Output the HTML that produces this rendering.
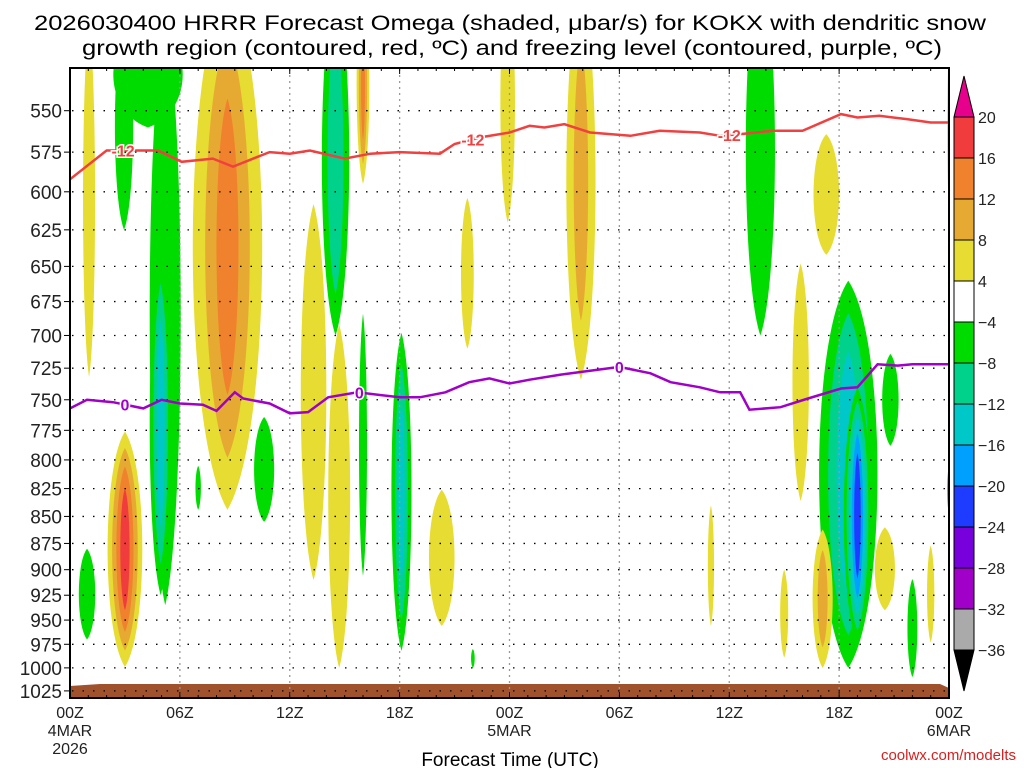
<!DOCTYPE html>
<html><head><meta charset="utf-8"><style>
html,body{margin:0;padding:0;background:#fff;}
svg{display:block;font-family:"Liberation Sans",sans-serif;}
</style></head><body>
<svg id="chart" width="1024" height="768" viewBox="0 0 1024 768" xmlns="http://www.w3.org/2000/svg">
<defs><clipPath id="plotclip"><rect x="70" y="68" width="879" height="630"/></clipPath></defs>
<text x="510" y="30" font-size="21" text-anchor="middle" textLength="952" lengthAdjust="spacingAndGlyphs">2026030400 HRRR Forecast Omega (shaded, μbar/s) for KOKX with dendritic snow</text>
<text x="512" y="55" font-size="21" text-anchor="middle" textLength="860" lengthAdjust="spacingAndGlyphs">growth region (contoured, red, ºC) and freezing level (contoured, purple, ºC)</text>
<g id="shade" clip-path="url(#plotclip)"></g>
<g id="grid"></g>
<g id="lines" clip-path="url(#plotclip)"></g>
<rect x="70" y="68" width="879" height="630" fill="none" stroke="#000" stroke-width="2"/>
<g id="axes"></g>
<g id="cbar"></g>
<text x="510" y="766" font-size="19" text-anchor="middle">Forecast Time (UTC)</text>
<text x="1016" y="760" font-size="15" fill="#d82020" text-anchor="end">coolwx.com/modelts</text>
</svg>
<script>
// ---- data ----
const pressureTicks=[550,575,600,625,650,675,700,725,750,775,800,825,850,875,900,925,950,975,1000,1025];
const timeTicks=[0,6,12,18,24,30,36,42,48];
const timeLabels=["00Z","06Z","12Z","18Z","00Z","06Z","12Z","18Z","00Z"];
const dateLabels=["4MAR","","","","5MAR","","","","6MAR"];
// omega features: center hour, top pressure, bottom pressure, half-width (h), peak omega
const blobT=[1.04,0.93,2.95,4.26,5.2,4.95,3.0,8.6,10.6,7.0,13.3,14.7,14.5,16,16,18.1,20.3,21.7,23.9,27.9,22,35,37.7,41.3,39.9,42.5,43.0,41.1,39,44.8,44.5,46,47,48.2,48.3];
const blobPt=[500,880,500,500,500,640,776,480,764,805,608,692,480,480,684,698,826,604,480,480,980,840,470,564,648,660,740,862,900,714,860,909,877,793,480];
const blobPb=[732,970,625,560,935,925,999,844,855,844,910,1000,700,595,906,982,956,710,620,734,1000,956,700,642,836,1000,975,1000,989,788,940,1010,973,861,655];
const blobW=[0.33,0.45,0.5,1.9,0.85,0.6,0.95,1.9,0.55,0.15,0.7,0.6,0.75,0.35,0.22,0.55,0.7,0.35,0.4,0.8,0.1,0.17,0.8,0.7,0.45,1.6,0.75,0.55,0.22,0.45,0.55,0.27,0.2,0.3,0.4];
const blobV=[6,-7,-7,-6,-7,-14,18,13,-7,-6,6,6,-11,13,-6,-13,6,6,6,9,-6,6,-7,6,6,-15,-23,9,6,-7,6,-7,6,-7,6];
const posColors=["#e6dc32","#e6aa32","#f0822d","#f03c3c","#e6008c"];
const negColors=["#00dc00","#00d28c","#00c8c8","#00a0ff","#1e3cff","#7800dc","#a000c8","#aaaaaa"];
// -12C contour (red)
const redT=[0,2.0,3.66,4.8,6.1,7.8,8.9,10.9,12.0,13.1,15.0,16.4,18.0,20.2,21.0,22.4,24.0,25.1,25.9,27.0,28.4,29.5,30.6,32.2,34.4,35.5,36.6,38.4,40.0,42.1,43.0,44.2,45.7,47.0,48];
const redP=[592,574,574,574,581,579,584,575,576,574,579,576,575,576,570,566,563,559,560,558,563,564,565,562,563,565,564,562,562,552,554,553,555,557,557];
// 0C freezing level (purple)
const purT=[0,0.93,2.35,4.0,5.0,6.0,7.26,8.0,9.0,9.45,10.9,12.0,13.0,14.1,15.7,18.0,19.1,20.5,21.8,22.9,24.0,25.1,26.8,28.4,30.0,31.7,32.8,34.4,35.5,36.6,37.1,38.8,40.3,42.1,43.0,44.1,45.2,46.0,48];
const purP=[757,750,752,757,750,753,754,759,744,749,753,761,760,748,744,748,748,744,736,733,737,734,730,727,724,729,736,740,744,744,758,756,749,741,740,722,723,722,722];
const redLabelT=[2.9,22,36];
const purLabelT=[3.0,15.8,30.0];
const cbarLevels=[20,16,12,8,4,-4,-8,-12,-16,-20,-24,-28,-32,-36];
const cbarColors=["#f03c3c","#f0822d","#e6aa32","#e6dc32","#ffffff","#00dc00","#00d28c","#00c8c8","#00a0ff","#1e3cff","#7800dc","#a000c8","#aaaaaa"];

// ---- scales ----
const NS="http://www.w3.org/2000/svg";
function X(h){return 70+h*879/48;}
function Y(p){return 110.7+932*Math.log(p/550);}
function mk(tag,attrs,parent){const e=document.createElementNS(NS,tag);for(const k in attrs)e.setAttribute(k,attrs[k]);parent.appendChild(e);return e;}
function interp(ts,ps,t){for(let i=0;i<ts.length-1;i++){if(t>=ts[i]&&t<=ts[i+1]){const f=(t-ts[i])/(ts[i+1]-ts[i]);return ps[i]+f*(ps[i+1]-ps[i]);}}return ps[ps.length-1];}

// ---- shading ----
const shade=document.getElementById('shade');
for(let b=0;b<blobT.length;b++){
  const v=blobV[b],av=Math.abs(v),n=Math.max(1,Math.floor(av/4));
  const cx=X(blobT[b]),yt=Y(blobPt[b]),yb=Y(blobPb[b]),ym=(yt+yb)/2,hh=(yb-yt)/2,rw=blobW[b]*879/48;
  for(let i=0;i<n;i++){
    const s=i===0?1:Math.max(0.1,Math.pow((av-4*i)/av,1.2)),sv=Math.sqrt(s);
    const w=rw*s,h=hh*sv,t=ym-h,bt=ym+h,H=2*h,k=1.33*w;
    const col=v>0?posColors[Math.min(i,4)]:negColors[Math.min(i,7)];
    const d=`M${cx},${t} C${cx+k},${t+0.15*H} ${cx+k},${bt-0.15*H} ${cx},${bt} C${cx-k},${bt-0.15*H} ${cx-k},${t+0.15*H} ${cx},${t} Z`;
    const e=mk('path',{d:d,fill:col},shade);
    
    
  }
}
const ground=mk('path',{d:"M70,686 L100,684 L940,684 L949,688 L949,698 L70,698 Z",fill:"#a0522d"},shade);



// ---- grid ----
const grid=document.getElementById('grid');
pressureTicks.forEach(p=>{
  const g=mk('line',{x1:72,x2:947,y1:Y(p),y2:Y(p),stroke:"#000","stroke-width":1.3,"stroke-dasharray":"1.5 9"},grid);
  
  
});
timeTicks.forEach(t=>{
  if(t===0||t===48)return;
  const g=mk('line',{x1:X(t),x2:X(t),y1:69,y2:697,stroke:"#999","stroke-width":1.3,"stroke-dasharray":"2 4"},grid);
  
  
});

// ---- lines ----
const lines=document.getElementById('lines');
function poly(ts,ps){return ts.map((t,i)=>X(t).toFixed(1)+","+Y(ps[i]).toFixed(1)).join(" ");}
const rl=mk('polyline',{points:poly(redT,redP),fill:"none",stroke:"#f04040","stroke-width":2.5},lines);


const pl=mk('polyline',{points:poly(purT,purP),fill:"none",stroke:"#a000c8","stroke-width":2.5},lines);


redLabelT.forEach(t=>{
  const e=mk('text',{x:X(t),y:Y(interp(redT,redP,t))+6,"font-size":16,"font-weight":"bold",fill:"#f04040","text-anchor":"middle",stroke:"#fff","stroke-width":3,"paint-order":"stroke"},lines);
  e.textContent="-12";
  
  
});
purLabelT.forEach(t=>{
  const e=mk('text',{x:X(t),y:Y(interp(purT,purP,t))+6,"font-size":16,"font-weight":"bold",fill:"#a000c8","text-anchor":"middle",stroke:"#fff","stroke-width":3,"paint-order":"stroke"},lines);
  e.textContent="0";
  
  
});

// ---- axes ----
const axes=document.getElementById('axes');
pressureTicks.forEach(p=>{
  const t=mk('line',{x1:64,x2:69,y1:Y(p),y2:Y(p),stroke:"#000","stroke-width":1},axes);
  
  
  const e=mk('text',{x:62,y:Y(p)+7,"font-size":19,"text-anchor":"end",fill:"#222"},axes);
  e.textContent=p;
  
  
});
for(let h=1;h<48;h++){
  const len=h%6===0?6:3;
  mk('line',{x1:X(h),x2:X(h),y1:698,y2:698-len,stroke:"#000","stroke-width":1},axes);
  mk('line',{x1:X(h),x2:X(h),y1:68,y2:68+len,stroke:"#000","stroke-width":1},axes);
}
timeTicks.forEach((t,i)=>{
  const e=mk('text',{x:X(t),y:718,"font-size":16,"text-anchor":"middle",fill:"#222"},axes);
  e.textContent=timeLabels[i];
  
  
  if(dateLabels[i]){
    const d=mk('text',{x:X(t),y:736,"font-size":16,"text-anchor":"middle",fill:"#222"},axes);
    d.textContent=dateLabels[i];
    
    
  }
});
const yr=mk('text',{x:X(0),y:754,"font-size":16,"text-anchor":"middle",fill:"#222"},axes);
yr.textContent="2026";



// ---- colorbar ----
const cbar=document.getElementById('cbar');
const cx0=954,cw=20,cy0=117,step=41;
const up=mk('path',{d:`M${cx0},${cy0} L${cx0+cw/2},${cy0-step} L${cx0+cw},${cy0} Z`,fill:"#e6008c",stroke:"#000","stroke-width":1},cbar);


cbarColors.forEach((c,i)=>{
  const r=mk('rect',{x:cx0,y:cy0+i*step,width:cw,height:step,fill:c,stroke:"#000","stroke-width":1},cbar);
  
  
});
const yEnd=cy0+cbarColors.length*step;
const dn=mk('path',{d:`M${cx0},${yEnd} L${cx0+cw/2},${yEnd+step} L${cx0+cw},${yEnd} Z`,fill:"#000",stroke:"#000","stroke-width":1},cbar);


cbarLevels.forEach((l,i)=>{
  const e=mk('text',{x:978,y:cy0+i*step+6,"font-size":16,fill:"#222"},cbar);
  e.textContent=l<0?"\u2212"+Math.abs(l):String(l);
  
  
});
</script>
</body></html>
